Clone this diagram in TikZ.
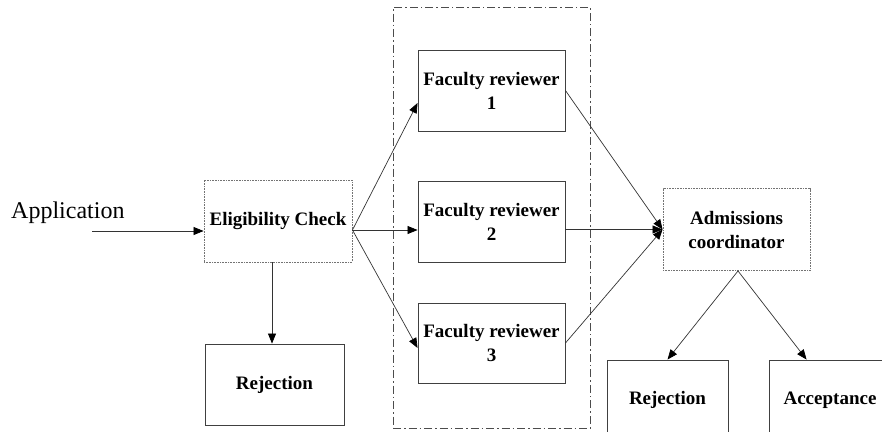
\documentclass[tikz,border=0pt]{standalone}
\usepackage{fontspec}
\setmainfont{Liberation Serif}
\usetikzlibrary{arrows.meta}

\begin{document}
\begin{tikzpicture}[x=1pt,y=-1pt,
  box/.style={draw=black!75,line width=0.9pt,align=center,inner sep=0pt,
    font=\fontsize{19}{24}\selectfont\bfseries},
  dotbox/.style={box,draw=black!55,dash pattern=on 0.8pt off 0.8pt},
  link/.style={draw=black!80,line width=0.7pt},
  arrow/.style={link,-{Triangle[length=10pt,width=8pt,fill=black,color=black]}},
  panelframe/.style={draw=black!70,line width=0.8pt,
    dash pattern=on 8pt off 3pt on 1.5pt off 3pt}]
  \useasboundingbox (0,0) rectangle (882,431);
  \clip (0,0) rectangle (882,431);

  % reviewer panel frame
  \node[panelframe,minimum width=197pt,minimum height=421pt] (panel) at (491.5,217.5) {};

  % boxes
  \node[dotbox,minimum width=148pt,minimum height=82pt] (ec) at (278,221) {Eligibility Check};
  \node[box,minimum width=139pt,minimum height=81pt] (rej1) at (274.5,384.5) {Rejection};
  \node[box,minimum width=147pt,minimum height=81pt] (fr1) at (491.5,90.5) {Faculty reviewer\\1};
  \node[box,minimum width=147pt,minimum height=81pt] (fr2) at (491.5,221.5) {Faculty reviewer\\2};
  \node[box,minimum width=147pt,minimum height=80pt] (fr3) at (491.5,343) {Faculty reviewer\\3};
  \node[dotbox,minimum width=147pt,minimum height=82pt] (ac) at (736.5,229.5) {Admissions\\coordinator};
  \node[box,minimum width=121pt,minimum height=80pt] (rej2) at (667.5,400) {Rejection};
  \node[box,minimum width=122pt,minimum height=80pt] (acc) at (830,400) {Acceptance};

  % input label
  \node[font=\fontsize{24}{28}\selectfont,anchor=base west,inner sep=0pt] (app) at (11,218) {Application};
  \coordinate (in0) at (92,231);

  % connectors
  \draw[arrow] (in0) -- (in0 -| ec.west);
  \draw[arrow] ([xshift=-6pt]ec.south) -- ([xshift=-6pt]ec.south |- rej1.north);
  \coordinate (ecout) at ([yshift=-9pt]ec.east);
  \draw[arrow] (ecout) -- ([yshift=-12.5pt]fr1.west);
  \draw[arrow] (ecout) -- ([yshift=-8.5pt]fr2.west);
  \draw[arrow] (ecout) -- ([yshift=-5pt]fr3.west);
  \draw[arrow] (fr1.east) -- (ac.west);
  \draw[arrow] (fr2.east |- ac.west) -- (ac.west);
  \draw[arrow] (fr3.east) -- (ac.west);
  \draw[arrow] ([xshift=1.5pt]ac.south) -- (rej2.north);
  \draw[arrow] ([xshift=1.5pt]ac.south) -- ([xshift=38pt]acc.north west);
\end{tikzpicture}
\end{document}
